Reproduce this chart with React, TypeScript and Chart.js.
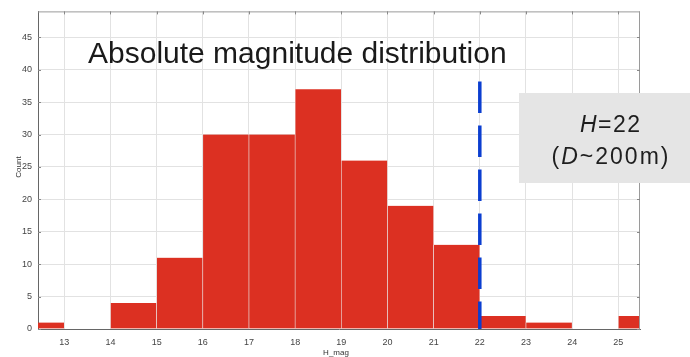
import React, { useEffect, useRef } from "react";
import { Chart, registerables } from "chart.js";

Chart.register(...registerables);

// ---- data ----
const binStarts = [12, 13, 14, 15, 16, 17, 18, 19, 20, 21, 22, 23, 24, 25];
const counts = [1, 0, 4, 11, 30, 30, 37, 26, 19, 13, 2, 1, 0, 2];
const xTicks = [13, 14, 15, 16, 17, 18, 19, 20, 21, 22, 23, 24, 25];
const yTicks = [0, 5, 10, 15, 20, 25, 30, 35, 40, 45];
const cutoffH = 22;
const cutoffLineTop = 38.2;
const titleText = "Absolute magnitude distribution";
const xTitle = "H_mag";
const yTitle = "Count";
const noteLine1 = [
  { t: "H", italic: true },
  { t: "=22", italic: false },
];
const noteLine2 = [
  { t: "(", italic: false },
  { t: "D", italic: true },
  { t: "~200m)", italic: false },
];

const FONT = "'Liberation Sans', Arial, sans-serif";

function drawRuns(ctx: CanvasRenderingContext2D, runs: { t: string; italic: boolean }[], cx: number, y: number, size: number, spacing: number) {
  (ctx as any).letterSpacing = `${spacing}px`;
  const widths = runs.map((r) => {
    ctx.font = `${r.italic ? "italic " : ""}${size}px ${FONT}`;
    return ctx.measureText(r.t).width;
  });
  const total = widths.reduce((a, b) => a + b, 0) - spacing;
  let x = cx - total / 2;
  runs.forEach((r, i) => {
    ctx.font = `${r.italic ? "italic " : ""}${size}px ${FONT}`;
    ctx.fillText(r.t, x, y);
    x += widths[i];
  });
  (ctx as any).letterSpacing = "0px";
}

const decorPlugin = {
  id: "decor",
  afterDatasetsDraw(chart: any) {
    const ctx: CanvasRenderingContext2D = chart.ctx;
    const a = chart.chartArea;
    const xs = chart.scales.x;
    const ys = chart.scales.y;
    ctx.save();
    // box lines top/right
    ctx.strokeStyle = "#9a9a9a";
    ctx.lineWidth = 1;
    ctx.beginPath();
    ctx.moveTo(a.left, a.top + 0.5);
    ctx.lineTo(a.right, a.top + 0.5);
    ctx.moveTo(a.right - 0.5, a.top);
    ctx.lineTo(a.right - 0.5, a.bottom);
    ctx.stroke();
    // inward ticks
    ctx.strokeStyle = "#888";
    ctx.beginPath();
    xTicks.forEach((v) => {
      const px = Math.round(xs.getPixelForValue(v)) + 0.5;
      ctx.moveTo(px, a.top);
      ctx.lineTo(px, a.top + 3);
    });
    yTicks.forEach((v) => {
      const py = Math.round(ys.getPixelForValue(v)) + 0.5;
      ctx.moveTo(a.right, py);
      ctx.lineTo(a.right - 3, py);
      ctx.moveTo(a.left, py);
      ctx.lineTo(a.left + 3, py);
    });
    ctx.stroke();

    // title
    ctx.fillStyle = "#1a1a1a";
    ctx.font = `30px ${FONT}`;
    ctx.textAlign = "left";
    ctx.textBaseline = "alphabetic";
    ctx.fillText(titleText, 88, 63);

    // axis titles
    ctx.fillStyle = "#333";
    ctx.font = `8px ${FONT}`;
    ctx.textAlign = "center";
    ctx.textBaseline = "middle";
    ctx.fillText(xTitle, 336, 353);
    ctx.save();
    ctx.translate(19, 167);
    ctx.rotate(-Math.PI / 2);
    ctx.fillText(yTitle, 0, 0);
    ctx.restore();

    // note box
    ctx.fillStyle = "#e5e5e5";
    ctx.fillRect(519, 93, 171, 90);
    ctx.fillStyle = "#1e1e1e";
    ctx.textAlign = "left";
    ctx.textBaseline = "alphabetic";
    drawRuns(ctx, noteLine1, 610, 132, 23, 1.5);
    drawRuns(ctx, noteLine2, 610, 164, 23, 2);
    ctx.restore();
  },
};

export default function App() {
  const ref = useRef<HTMLCanvasElement | null>(null);
  useEffect(() => {
    if (!ref.current) return;
    const chart = new Chart(ref.current, {
      type: "bar",
      data: {
        datasets: [
          {
            type: "line",
            data: [
              { x: cutoffH, y: cutoffLineTop },
              { x: cutoffH, y: 0 },
            ],
            borderColor: "#0b3ed0",
            borderWidth: 3.5,
            borderDash: [31.5, 12.5],
            borderCapStyle: "butt",
            pointRadius: 0,
            order: 0,
          } as any,
          {
            type: "bar",
            data: binStarts.map((b, i) => ({ x: b + 0.5, y: counts[i] })),
            backgroundColor: "#dc3022",
            borderColor: "#eeeeee",
            borderWidth: { left: 0.6, right: 0.6, top: 0, bottom: 0 },
            borderSkipped: false,
            barPercentage: 1,
            categoryPercentage: 1,
            grouped: false,
            order: 1,
          } as any,
        ],
      },
      options: {
        responsive: false,
        animation: false,
        events: [],
        layout: { padding: { top: 11, right: 50, left: 0, bottom: 0 } },
        plugins: { legend: { display: false }, tooltip: { enabled: false } },
        scales: {
          x: {
            type: "linear",
            offset: false,
            min: 12.43,
            max: 25.47,
            afterBuildTicks: (s: any) => {
              s.ticks = xTicks.map((v) => ({ value: v }));
            },
            afterFit: (s: any) => {
              s.height = 28;
            },
            grid: { color: "#e2e2e2", drawTicks: false, tickLength: 0, offset: false },
            border: { color: "#666", width: 1 },
            ticks: {
              padding: 8,
              color: "#444",
              font: { family: FONT, size: 9 },
              maxRotation: 0,
              autoSkip: false,
            },
          },
          y: {
            type: "linear",
            min: 0,
            max: 49,
            afterBuildTicks: (s: any) => {
              s.ticks = yTicks.map((v) => ({ value: v }));
            },
            afterFit: (s: any) => {
              s.width = 38;
            },
            grid: { color: "#e2e2e2", drawTicks: false, tickLength: 0 },
            border: { color: "#666", width: 1 },
            ticks: {
              padding: 6,
              color: "#444",
              font: { family: FONT, size: 9 },
            },
          },
        },
      } as any,
      plugins: [decorPlugin],
    });
    return () => chart.destroy();
  }, []);
  return (
    <div style={{ position: "fixed", left: 0, top: 0, width: 690, height: 357, background: "#fff" }}>
      <canvas ref={ref} width={690} height={357} style={{ display: "block" }} />
    </div>
  );
}
